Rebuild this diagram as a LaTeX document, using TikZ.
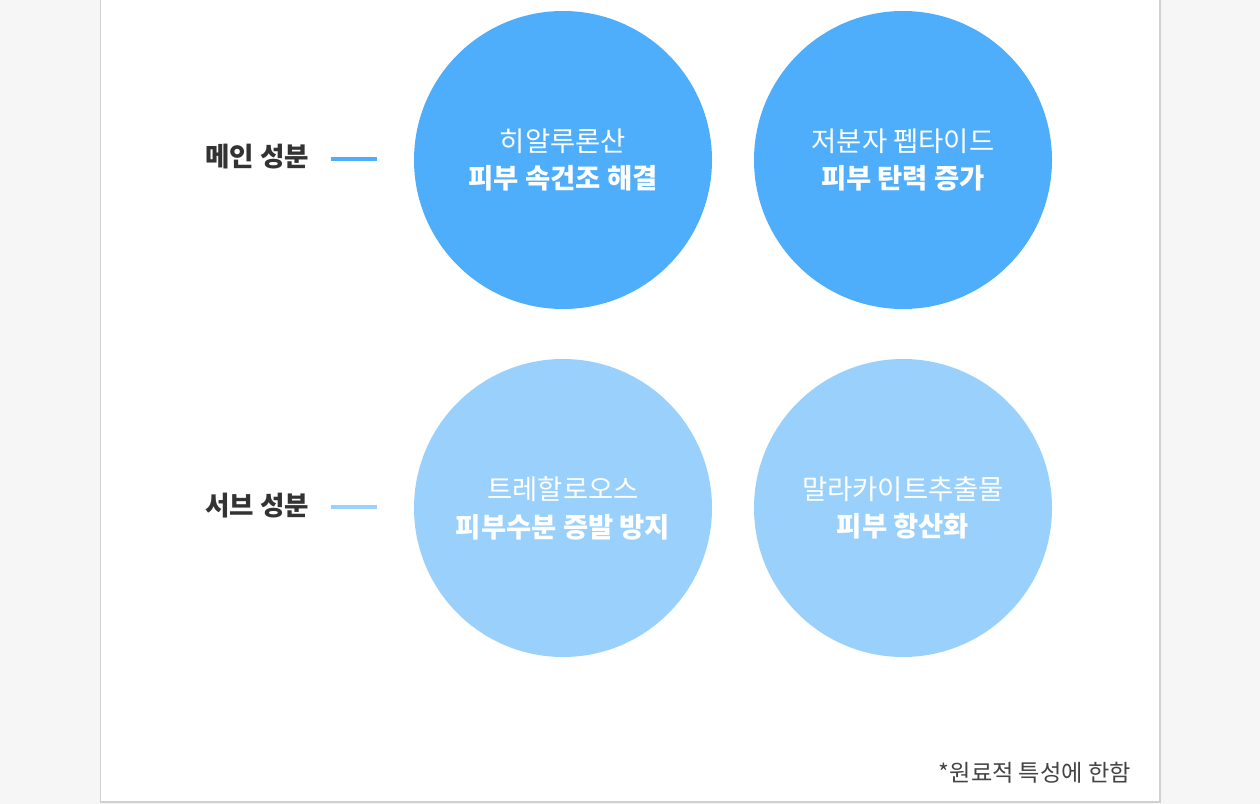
\documentclass[tikz,border=0pt]{standalone}
\usepackage{fontspec}
\setmainfont{Noto Sans CJK KR}
\definecolor{mainblue}{HTML}{4EAEFC}
\definecolor{subblue}{HTML}{99D1FC}
\definecolor{pagegray}{HTML}{F6F6F6}
\definecolor{framegray}{HTML}{D0D0D0}
\definecolor{labelgray}{HTML}{333333}
\definecolor{notegray}{HTML}{444444}
\tikzset{
  bubble/.style={circle, minimum size=5.96cm, inner sep=0pt, text=white, align=center,
    font=\fontsize{15.6}{21.5}\selectfont},
  rowlabel/.style={text=labelgray, font=\fontsize{15.1}{17}\selectfont\bfseries},
  tick/.style={line width=2.2pt}
}
\begin{document}
\begin{tikzpicture}[node distance=6.8cm, auto]
    \useasboundingbox (0,0) rectangle (25.2,-16.08);
    \fill[pagegray] (0,0) rectangle (25.2,-16.08);
    \filldraw[fill=white, draw=framegray, line width=0.6pt] (2.01,0.2) rectangle (23.2,-16.04);

    \node[bubble, fill=mainblue] (hya) at (11.26,-3.2) {히알루론산\\\textbf{피부 속건조 해결}};
    \node[bubble, fill=mainblue, right of=hya] (pep) {저분자 펩타이드\\\textbf{피부 탄력 증가}};
    \node[bubble, fill=subblue, below of=hya, node distance=6.96cm] (tre) {트레할로오스\\\textbf{피부수분 증발 방지}};
    \node[bubble, fill=subblue, right of=tre] (mal) {말라카이트추출물\\\textbf{피부 항산화}};

    % row labels
    \node[rowlabel] (mainlbl) at (5.14,-3.14) {메인 성분};
    \node[rowlabel] (sublbl) at (5.14,-10.12) {서브 성분};
    \coordinate (m1) at (6.62,-3.18);
    \coordinate (m2) at (7.54,-3.18);
    \coordinate (s1) at (6.62,-10.14);
    \coordinate (s2) at (7.54,-10.14);
    \draw[tick, mainblue] (m1) -- (m2);
    \draw[tick, subblue] (s1) -- (s2);

    \node[anchor=east, text=notegray, font=\fontsize{13.2}{15}\selectfont] (note) at (22.74,-15.46) {*원료적 특성에 한함};
\end{tikzpicture}
\end{document}
